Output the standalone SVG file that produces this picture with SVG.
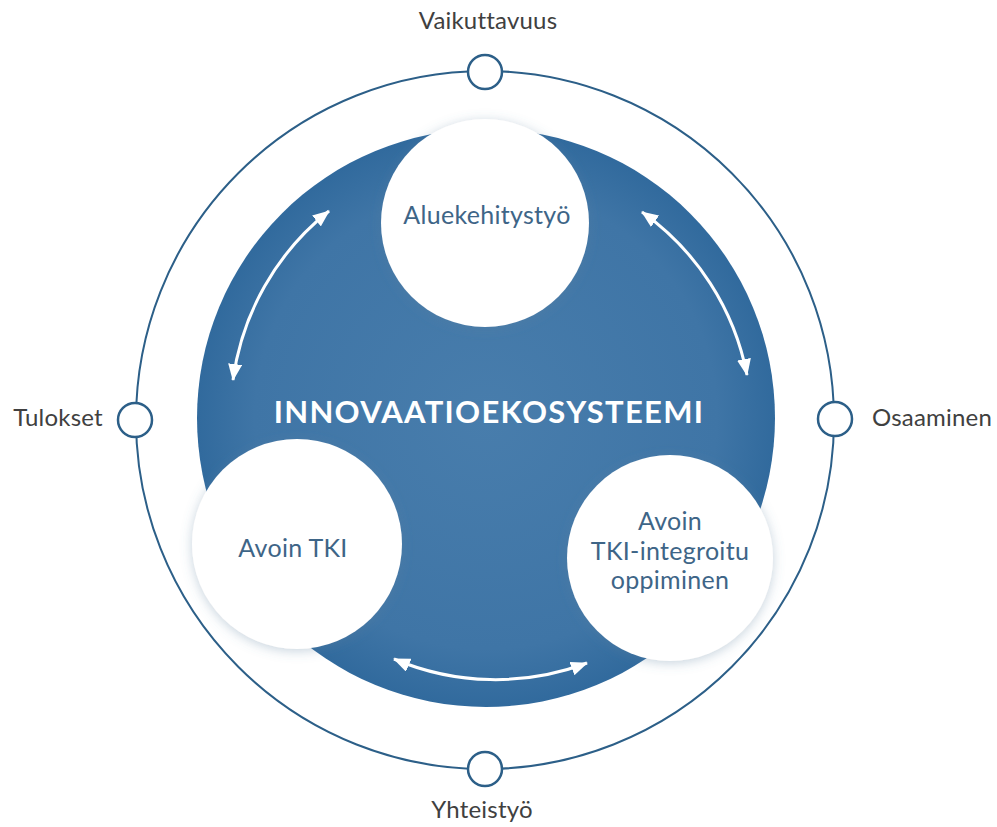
<svg xmlns="http://www.w3.org/2000/svg" width="997" height="827" viewBox="0 0 997 827">
<defs>
<style>
.ring{fill:none;stroke:#2c5f88;stroke-width:2}
.dot{fill:#fff;stroke:#2c5f88;stroke-width:2.5}
.lbl{font-family:Lato,"Open Sans","Liberation Sans",sans-serif;font-size:24px;font-weight:normal;letter-spacing:0.2px;fill:#404040;text-anchor:middle}
.ntxt{font-family:Lato,"Open Sans","Liberation Sans",sans-serif;font-size:25px;font-weight:normal;letter-spacing:0.3px;fill:#3e6587;text-anchor:middle}
.title{font-family:Lato,"Open Sans","Liberation Sans",sans-serif;font-size:31px;font-weight:bold;letter-spacing:1.3px;fill:#fff;text-anchor:middle}
.node{fill:#fff;filter:url(#sh)}
.arr{fill:none;stroke:#fff;stroke-width:3;marker-start:url(#ah);marker-end:url(#ah)}
</style>
<radialGradient id="bg" cx="50%" cy="50%" r="50%">
<stop offset="0" stop-color="#487dac"/>
<stop offset="0.8" stop-color="#3f75a6"/>
<stop offset="1" stop-color="#316a9d"/>
</radialGradient>
<filter id="sh" x="-20%" y="-20%" width="140%" height="140%">
<feDropShadow dx="0" dy="2" stdDeviation="6" flood-color="#5c7f9e" flood-opacity="0.35"/>
</filter>
<marker id="ah" viewBox="0 0 17 14" refX="16" refY="7" markerWidth="17" markerHeight="14" markerUnits="userSpaceOnUse" orient="auto-start-reverse">
<path d="M0,0 L17,7 L0,14 z" fill="#fff"/>
</marker>
</defs>
<rect width="997" height="827" fill="#fff"/>
<g id="outer-ring">
<circle class="ring" cx="485" cy="420" r="349"/>
</g>
<g id="ecosystem">
<circle cx="486" cy="418" r="289" fill="url(#bg)"/>
<text class="title" x="489" y="423">INNOVAATIOEKOSYSTEEMI</text>
</g>
<g id="connectors">
<path class="arr" d="M233,380 A260,260 0 0,1 329,211"/>
<path class="arr" d="M642,212 A260,260 0 0,1 747,375"/>
<path class="arr" d="M587,663 A260,260 0 0,1 394,659"/>
</g>
<g id="aluekehitystyo">
<circle class="node" cx="485" cy="223" r="104"/>
<text class="ntxt" x="487" y="224">Aluekehitystyö</text>
</g>
<g id="avoin-tki">
<circle class="node" cx="297" cy="544" r="105"/>
<text class="ntxt" x="293" y="557">Avoin TKI</text>
</g>
<g id="avoin-tki-oppiminen">
<circle class="node" cx="670" cy="558" r="103"/>
<text class="ntxt" x="670" y="530">Avoin</text>
<text class="ntxt" x="670" y="560">TKI-integroitu</text>
<text class="ntxt" x="670" y="589">oppiminen</text>
</g>
<g id="vaikuttavuus">
<circle class="dot" cx="485" cy="72" r="17"/>
<text class="lbl" x="488" y="29">Vaikuttavuus</text>
</g>
<g id="tulokset">
<circle class="dot" cx="135" cy="420" r="17"/>
<text class="lbl" x="58" y="426">Tulokset</text>
</g>
<g id="osaaminen">
<circle class="dot" cx="835" cy="419" r="17"/>
<text class="lbl" x="932" y="426">Osaaminen</text>
</g>
<g id="yhteistyo">
<circle class="dot" cx="485" cy="769" r="17"/>
<text class="lbl" x="482" y="818">Yhteistyö</text>
</g>
</svg>
